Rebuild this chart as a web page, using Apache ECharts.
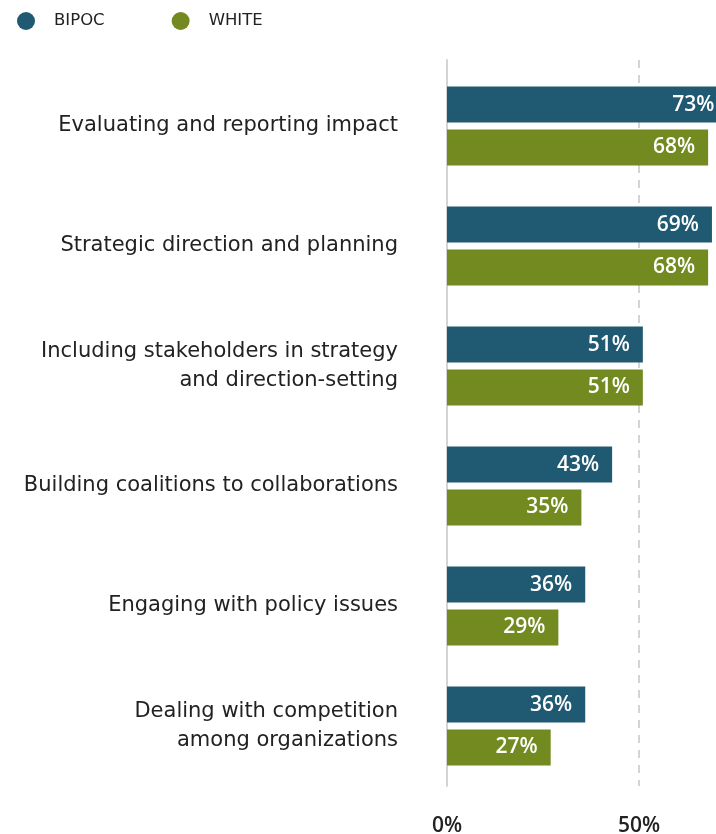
<!DOCTYPE html>
<html><head><meta charset="utf-8">
<script src="https://cdn.jsdelivr.net/npm/echarts@6/dist/echarts.min.js"></script>
<style>html,body{margin:0;padding:0;background:#fff}#c{width:716px;height:834px}</style>
</head><body><div id="c"></div>
<script>
var categories = [
  "Evaluating and reporting impact",
  "Strategic direction and planning",
  "Including stakeholders in strategy\nand direction-setting",
  "Building coalitions to collaborations",
  "Engaging with policy issues",
  "Dealing with competition\namong organizations"
];
var bipoc = [73, 69, 51, 43, 36, 36];
var white = [68, 68, 51, 35, 29, 27];
var xTicks = [0, 50, 100];

var FONT = "DejaVu Sans";
var NUMFONT = "Open Sans";
var chart = echarts.init(document.getElementById('c'));
chart.setOption({
  animation: false,
  textStyle: {fontFamily: FONT},
  legend: {
    left: 17, top: 12, padding: 0, icon: 'circle', itemWidth: 18, itemHeight: 18, itemGap: 67,
    textStyle: {fontFamily: FONT, fontSize: 16.5, color: '#222', padding: [0, 0, 0, 14]},
    data: ['BIPOC', 'WHITE']
  },
  grid: [
    {left: 447, width: 384, top: 66, height: 720, outerBoundsMode: 'none', containLabel: false},
    {left: 447, width: 384, top: 60, height: 726, outerBoundsMode: 'none', containLabel: false}
  ],
  xAxis: [
    {gridIndex: 0, type: 'value', min: 0, max: 100, interval: 50, show: false},
    {gridIndex: 1, type: 'value', min: 0, max: 100, interval: 50,
     axisLine: {show: false}, axisTick: {show: false},
     splitLine: {show: true, lineStyle: {color: '#d4d4d4', width: 2, type: [8, 7]}},
     axisLabel: {margin: 30, fontFamily: NUMFONT, fontSize: 21, fontWeight: 600, color: '#222',
       formatter: function (v) { return xTicks.indexOf(v) >= 0 ? v + '%' : ''; }}}
  ],
  yAxis: [
    {gridIndex: 0, type: 'category', data: categories, inverse: true,
     axisLine: {show: false}, axisTick: {show: false},
     axisLabel: {margin: 49, fontFamily: FONT, fontSize: 21, color: '#222', lineHeight: 29, align: 'right',
       padding: [8, 0, 0, 0]}},
    {gridIndex: 1, type: 'value', min: 0, max: 1,
     axisLine: {show: true, onZero: false, lineStyle: {color: '#d4d4d4', width: 2}},
     axisTick: {show: false}, axisLabel: {show: false}, splitLine: {show: false}}
  ],
  series: [
    {name: 'BIPOC', type: 'bar', xAxisIndex: 0, yAxisIndex: 0, data: bipoc,
     barWidth: 36, barGap: '19%', barCategoryGap: '34%',
     itemStyle: {color: '#205a72'},
     label: {show: true, position: 'insideRight', distance: 13, formatter: '{c}%',
       color: '#fff', fontFamily: NUMFONT, fontSize: 21, fontWeight: 600}},
    {name: 'WHITE', type: 'bar', xAxisIndex: 0, yAxisIndex: 0, data: white,
     barWidth: 36, barGap: '19%', barCategoryGap: '34%',
     itemStyle: {color: '#738a21'},
     label: {show: true, position: 'insideRight', distance: 13, formatter: '{c}%',
       color: '#fff', fontFamily: NUMFONT, fontSize: 21, fontWeight: 600}}
  ]
});
</script></body></html>
